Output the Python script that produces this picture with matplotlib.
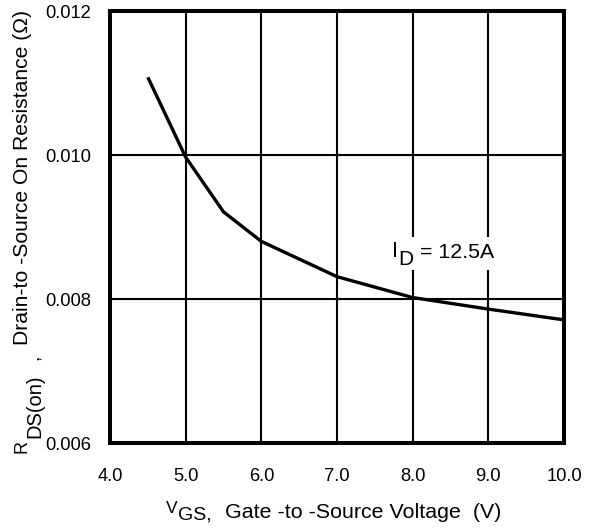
import matplotlib
matplotlib.use("Agg")
import matplotlib.pyplot as plt
from matplotlib.patches import Rectangle

plt.rcParams['font.family'] = ['Liberation Sans', 'DejaVu Sans']

vgs = [4.5, 5.0, 5.5, 6.0, 7.0, 8.0, 9.0, 10.0]
rds = [0.01108, 0.00997, 0.00921, 0.00880, 0.00831, 0.00802, 0.00786, 0.00771]
xticks = [4.0, 5.0, 6.0, 7.0, 8.0, 9.0, 10.0]
yticks = [0.006, 0.008, 0.010, 0.012]

W, H = 591, 531
fig = plt.figure(figsize=(W / 100, H / 100), dpi=100)
ax = fig.add_axes([110 / W, 1 - 443 / H, 454 / W, 432 / H])
ax.set_xlim(4.0, 10.0)
ax.set_ylim(0.006, 0.012)
ax.set_xticks(xticks)
ax.set_xticklabels([f"{v:.1f}" for v in xticks])
ax.set_yticks(yticks)
ax.set_yticklabels([f"{v:.3f}" for v in yticks])
ax.tick_params(length=0, labelsize=13.2)
ax.tick_params(axis='x', pad=18)
ax.tick_params(axis='y', pad=13.5)
ax.set_axisbelow(True)
ax.grid(True, color='black', linewidth=1.5)
for s in ax.spines.values():
    s.set_linewidth(2.9)
ax.plot(vgs, rds, color='black', linewidth=2.4, solid_capstyle='butt', zorder=3)

# white backing behind the annotation
ax.add_patch(Rectangle((389 / W, 1 - 270 / H), 112 / W, 33 / H, transform=fig.transFigure,
                       facecolor='white', edgecolor='none', zorder=1))

renderer = fig.canvas.get_renderer()


def piece(s, x0, base, size, x1=None, rot=False):
    if rot:
        t = fig.text(base / W, 1 - x0 / H, s, fontsize=size, rotation=90,
                     rotation_mode='anchor', ha='left', va='baseline', zorder=5)
    else:
        t = fig.text(x0 / W, 1 - base / H, s, fontsize=size, ha='left', va='baseline', zorder=5)
    if x1 is not None:
        bb = t.get_window_extent(renderer)
        w = bb.height if rot else bb.width
        target = abs(x1 - x0)
        t.set_fontsize(size * target / w)
    return t


# x label
piece('V', 166, 513, 12.5)
piece('GS,', 178, 519, 14)
piece('Gate -to -Source Voltage  (V)', 225, 518, 14, 503)

# y label (rotated; positions along y, baseline along x)
piece('R', 453, 27, 13, rot=True)
piece('DS(on)', 438, 40, 14.5, rot=True)
piece(',', 360, 39, 14, rot=True)
piece('Drain-to -Source On Resistance (\u03a9)', 345, 28, 14, 8, rot=True)

# annotation
piece('I', 392, 257, 15.5)
piece('D', 398, 265, 15)
piece('= 12.5A', 420, 258, 14.5, 494)

fig.savefig("out.png", dpi=100)
